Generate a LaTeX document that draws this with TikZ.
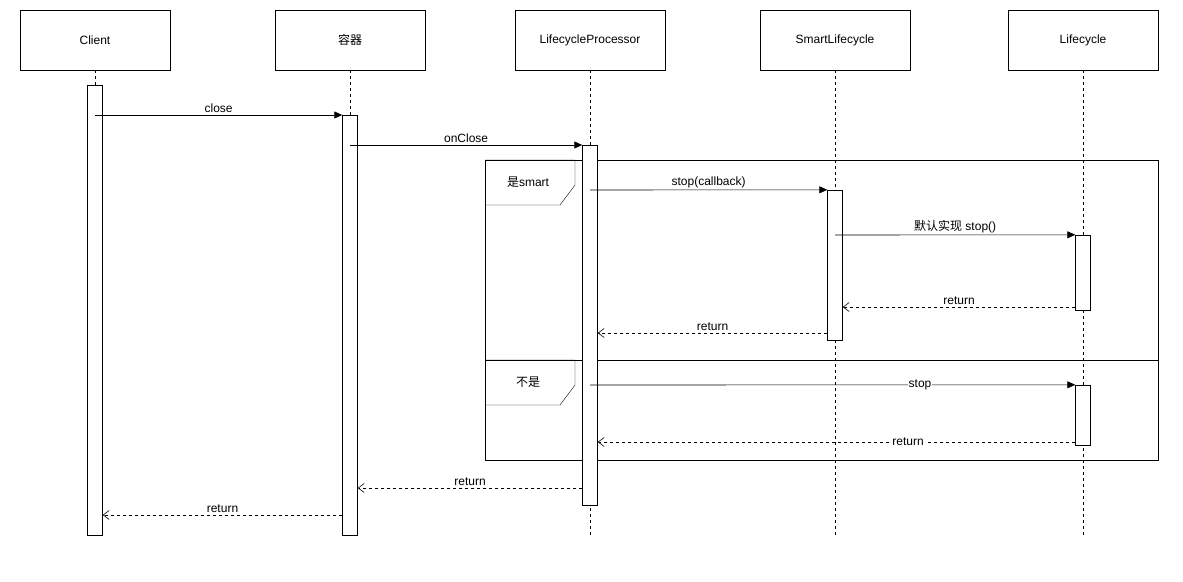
\documentclass[tikz,border=0pt]{standalone}
\usepackage{fontspec}
\setmainfont{Liberation Sans}
\newfontfamily\cjk{Noto Sans CJK SC}
\usetikzlibrary{arrows.meta}
\begin{document}
\begin{tikzpicture}[x=1pt,y=-1pt,font=\fontsize{12}{14}\selectfont,
  head/.style={draw,minimum width=150pt,minimum height=60pt,inner sep=0pt},
  life/.style={dashed,line width=0.6pt},
  act/.style={draw,fill=white,minimum width=15pt,inner sep=0pt},
  msg/.style={-{Triangle[length=8pt,width=7pt]},line width=0.6pt},
  ret/.style={dashed,-{Straight Barb[length=6pt,width=9pt]},line width=0.6pt},
  lab/.style={above,inner sep=2pt},
  onl/.style={fill=white,inner sep=1pt}]
\useasboundingbox (0,0) rectangle (1183,581);
\node[head] (h1) at (95,40) {Client};
\node[head] (h2) at (350,40) {\cjk 容器};
\node[head] (h3) at (590,40) {LifecycleProcessor};
\node[head] (h4) at (835,40) {SmartLifecycle};
\node[head] (h5) at (1083,40) {Lifecycle};
\coordinate (e1) at (95,535); \coordinate (e2) at (350,535);
\coordinate (e3) at (590,535); \coordinate (e4) at (835,535);
\coordinate (e5) at (1083,535);
\foreach \i in {1,...,5} \draw[life] (h\i.south) -- (e\i);
% frame
\draw (485,160) rectangle (1158,460);
\draw (485,360) -- (1158,360);
\draw (485,160) -- (575,160) -- (575,185) -- (560,205) -- (485,205);
\node (t1) at (528,182) {\cjk 是\rmfamily smart};
\draw (485,360) -- (575,360) -- (575,385) -- (560,405) -- (485,405);
\node (t2) at (528,382) {\cjk 不是};
% activations
\node[act,minimum height=450pt] (a1) at (95,310) {};
\node[act,minimum height=420pt] (a2) at (350,325) {};
\node[act,minimum height=360pt] (a3) at (590,325) {};
\node[act,minimum height=150pt] (a4) at (835,265) {};
\node[act,minimum height=75pt] (a5) at (1083,272.5) {};
\node[act,minimum height=60pt] (a6) at (1083,415) {};
% messages
\draw[msg] (95,115) -- node[lab]{close} (a2.west|-0,115);
\draw[msg] (350,145) -- node[lab]{onClose} (a3.west|-0,145);
\draw[msg] (590,190) -- node[lab]{stop(callback)} (a4.north west);
\draw[msg] (835,235) -- node[lab]{{\cjk 默认实现} stop()} (a5.north west);
\draw[ret] (a5.west|-0,307) -- node[lab]{return} (a4.east|-0,307);
\draw[ret] (a4.west|-0,333) -- node[lab]{return} (a3.east|-0,333);
\draw[msg] (590,385) -- node[onl,pos=0.68]{stop} (a6.north west);
\draw[ret] (a6.west|-0,442) -- node[onl,pos=0.35]{return} (a3.east|-0,442);
\draw[ret] (a3.west|-0,488) -- node[lab]{return} (a2.east|-0,488);
\draw[ret] (a2.west|-0,515) -- node[lab]{return} (a1.east|-0,515);
\end{tikzpicture}
\end{document}
